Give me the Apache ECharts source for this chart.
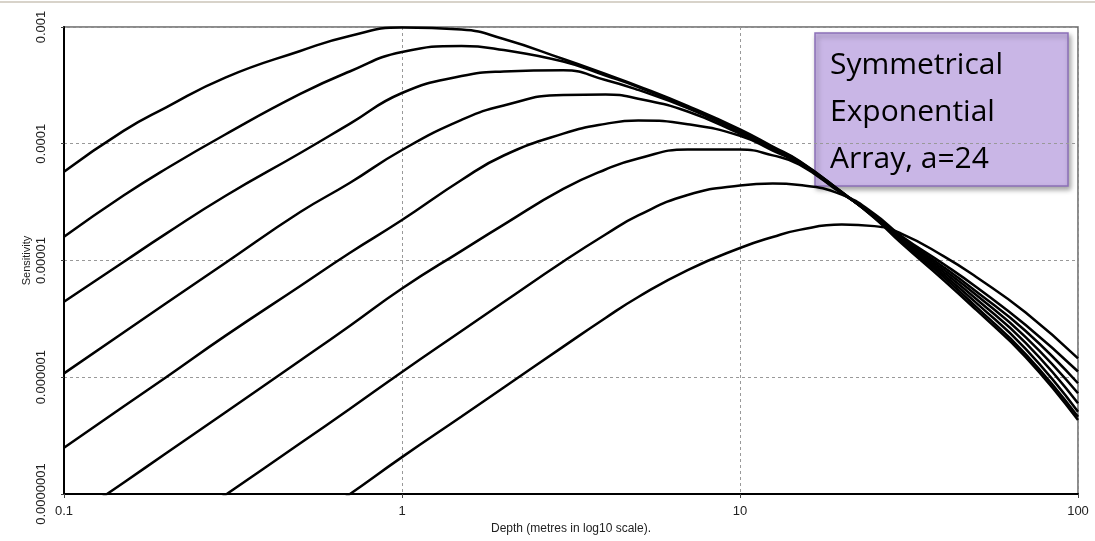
<!DOCTYPE html>
<html>
<head>
<meta charset="utf-8">
<script src="https://cdn.jsdelivr.net/npm/echarts@6.0.0/dist/echarts.min.js"></script>
<style>
  html, body { margin: 0; padding: 0; background: #fff; }
  #chart { width: 1095px; height: 541px; }
</style>
</head>
<body>
<div id="chart"></div>
<script>
// depth samples (m), shared by every curve
var depth = [0.1, 0.15, 0.2, 0.3, 0.5, 0.7, 1, 1.5, 2, 3, 4, 5, 7, 10, 12.5, 15, 20, 25, 30, 40, 50, 70, 100];

// sensitivity, one array per curve (smallest spacing first)
var sens1 = [5.76e-5, 1.29e-4, 2.04e-4, 3.69e-4, 6.23e-4, 8.38e-4, 9.90e-4, 9.52e-4, 7.89e-4, 5.32e-4, 3.96e-4, 3.12e-4, 2.11e-4, 1.33e-4, 9.47e-5, 7.11e-5, 3.86e-5, 2.31e-5, 1.41e-5, 6.81e-6, 3.77e-6, 1.49e-6, 4.30e-7];
var sens2 = [1.60e-5, 3.60e-5, 6.08e-5, 1.20e-4, 2.67e-4, 4.16e-4, 6.11e-4, 6.88e-4, 6.35e-4, 5.06e-4, 3.84e-4, 3.06e-4, 2.06e-4, 1.30e-4, 9.29e-5, 7.05e-5, 3.86e-5, 2.33e-5, 1.45e-5, 7.22e-6, 4.00e-6, 1.58e-6, 4.59e-7];
var sens3 = [4.44e-6, 9.71e-6, 1.69e-5, 3.57e-5, 8.33e-5, 1.48e-4, 2.72e-4, 3.80e-4, 4.16e-4, 4.26e-4, 3.52e-4, 2.89e-4, 2.02e-4, 1.26e-4, 9.11e-5, 6.98e-5, 3.82e-5, 2.36e-5, 1.48e-5, 7.59e-6, 4.33e-6, 1.75e-6, 5.07e-7];
var sens4 = [1.08e-6, 2.42e-6, 4.28e-6, 9.52e-6, 2.60e-5, 4.61e-5, 8.84e-5, 1.60e-4, 2.13e-4, 2.62e-4, 2.64e-4, 2.43e-4, 1.89e-4, 1.22e-4, 8.93e-5, 6.91e-5, 3.82e-5, 2.38e-5, 1.51e-5, 7.97e-6, 4.68e-6, 1.97e-6, 5.98e-7];
var sens5 = [2.49e-7, 5.62e-7, 9.95e-7, 2.26e-6, 6.05e-6, 1.16e-5, 2.22e-5, 4.89e-5, 7.93e-5, 1.22e-4, 1.48e-4, 1.58e-4, 1.47e-4, 1.17e-4, 8.75e-5, 6.77e-5, 3.79e-5, 2.41e-5, 1.54e-5, 8.37e-6, 5.06e-6, 2.21e-6, 7.29e-7];
var sens6 = [5.59e-8, 1.25e-7, 2.22e-7, 4.99e-7, 1.39e-6, 2.75e-6, 5.76e-6, 1.21e-5, 2.03e-5, 4.10e-5, 6.02e-5, 7.48e-5, 8.93e-5, 8.91e-5, 7.95e-5, 6.63e-5, 3.75e-5, 2.45e-5, 1.57e-5, 8.80e-6, 5.43e-6, 2.49e-6, 8.88e-7];
var sens7 = [1.09e-8, 2.45e-8, 4.37e-8, 9.80e-8, 2.72e-7, 5.35e-7, 1.11e-6, 2.49e-6, 4.41e-6, 9.80e-6, 1.67e-5, 2.43e-5, 3.64e-5, 4.39e-5, 4.56e-5, 4.43e-5, 3.67e-5, 2.50e-5, 1.62e-5, 9.33e-6, 5.93e-6, 2.80e-6, 1.12e-6];
var sens8 = [2.03e-9, 4.56e-9, 8.12e-9, 1.83e-8, 5.06e-8, 9.94e-8, 2.07e-7, 4.61e-7, 8.17e-7, 1.83e-6, 3.22e-6, 4.87e-6, 8.29e-6, 1.28e-5, 1.59e-5, 1.83e-5, 2.03e-5, 1.97e-5, 1.70e-5, 1.09e-5, 7.22e-6, 3.59e-6, 1.45e-6];

var xTickLabels = ['0.1', '1', '10', '100'];
var yTickLabels = ['0.0000001', '0.000001', '0.00001', '0.0001', '0.001'];

var curves = [sens1, sens2, sens3, sens4, sens5, sens6, sens7, sens8];

var chart = echarts.init(document.getElementById('chart'), null, { renderer: 'canvas' });

var labelFont = {
    color: '#222',
    fontFamily: '"Liberation Sans", Arial, sans-serif',
    fontSize: 13
};

chart.setOption({
    animation: false,
    backgroundColor: '#fff',
    grid: {
        left: 64,
        right: 17,
        top: 27,
        bottom: 47,
        show: true,
        borderColor: '#666',
        borderWidth: 1.5,
        backgroundColor: 'transparent'
    },
    xAxis: {
        type: 'log',
        logBase: 10,
        min: 0.1,
        max: 100,
        name: 'Depth (metres in log10 scale).',
        nameLocation: 'middle',
        nameGap: 29,
        nameMoveOverlap: false,
        nameTextStyle: {
            color: '#222',
            fontFamily: '"Liberation Sans", Arial, sans-serif',
            fontSize: 12
        },
        axisLine: {
            lineStyle: { color: '#000', width: 2 }
        },
        axisTick: {
            length: 4,
            lineStyle: { color: '#444' }
        },
        axisLabel: Object.assign({
            margin: 11,
            formatter: function (v) {
                return xTickLabels[Math.round(Math.log10(v)) + 1];
            }
        }, labelFont),
        splitLine: {
            show: true,
            lineStyle: { color: '#999', type: [3, 3], width: 1 }
        }
    },
    yAxis: {
        type: 'log',
        logBase: 10,
        min: 1e-7,
        max: 1e-3,
        name: 'Sensitivity',
        nameLocation: 'middle',
        nameGap: 32,
        nameRotate: 90,
        nameMoveOverlap: false,
        nameTextStyle: {
            color: '#222',
            fontFamily: '"Liberation Sans", Arial, sans-serif',
            fontSize: 11
        },
        axisLine: {
            lineStyle: { color: '#000', width: 2 }
        },
        axisTick: {
            length: 3,
            lineStyle: { color: '#444' }
        },
        axisLabel: Object.assign({
            rotate: 90,
            margin: 16,
            formatter: function (v) {
                return yTickLabels[Math.round(Math.log10(v)) + 7];
            }
        }, labelFont),
        splitLine: {
            show: true,
            lineStyle: { color: '#999', type: [3, 3], width: 1 }
        }
    },
    graphic: [
        {
            type: 'line',
            shape: { x1: 0, y1: 2, x2: 1095, y2: 2 },
            style: { stroke: '#cbc5b9', lineWidth: 1.5 }
        },
        {
            type: 'group',
            z: 100,
            children: [
                {
                    type: 'rect',
                    shape: { x: 815, y: 33, width: 253, height: 153 },
                    style: {
                        fill: '#c9b6e6',
                        stroke: '#8c70b8',
                        lineWidth: 1.5,
                        shadowBlur: 5,
                        shadowOffsetX: 2,
                        shadowOffsetY: 3,
                        shadowColor: 'rgba(0,0,0,0.35)'
                    }
                },
                {
                    type: 'text',
                    style: {
                        x: 830,
                        y: 41.5,
                        text: 'Symmetrical\nExponential\nArray, a=24',
                        fill: '#000',
                        fontFamily: '"Open Sans", sans-serif',
                        fontSize: 30,
                        lineHeight: 47
                    }
                }
            ]
        }
    ],
    series: curves.map(function (vals) {
        return {
            type: 'line',
            data: depth.map(function (d, i) { return [d, vals[i]]; }),
            showSymbol: false,
            smooth: 0.5,
            clip: true,
            lineStyle: { color: '#000', width: 2.5 },
            emphasis: { disabled: true }
        };
    })
});
</script>
</body>
</html>
